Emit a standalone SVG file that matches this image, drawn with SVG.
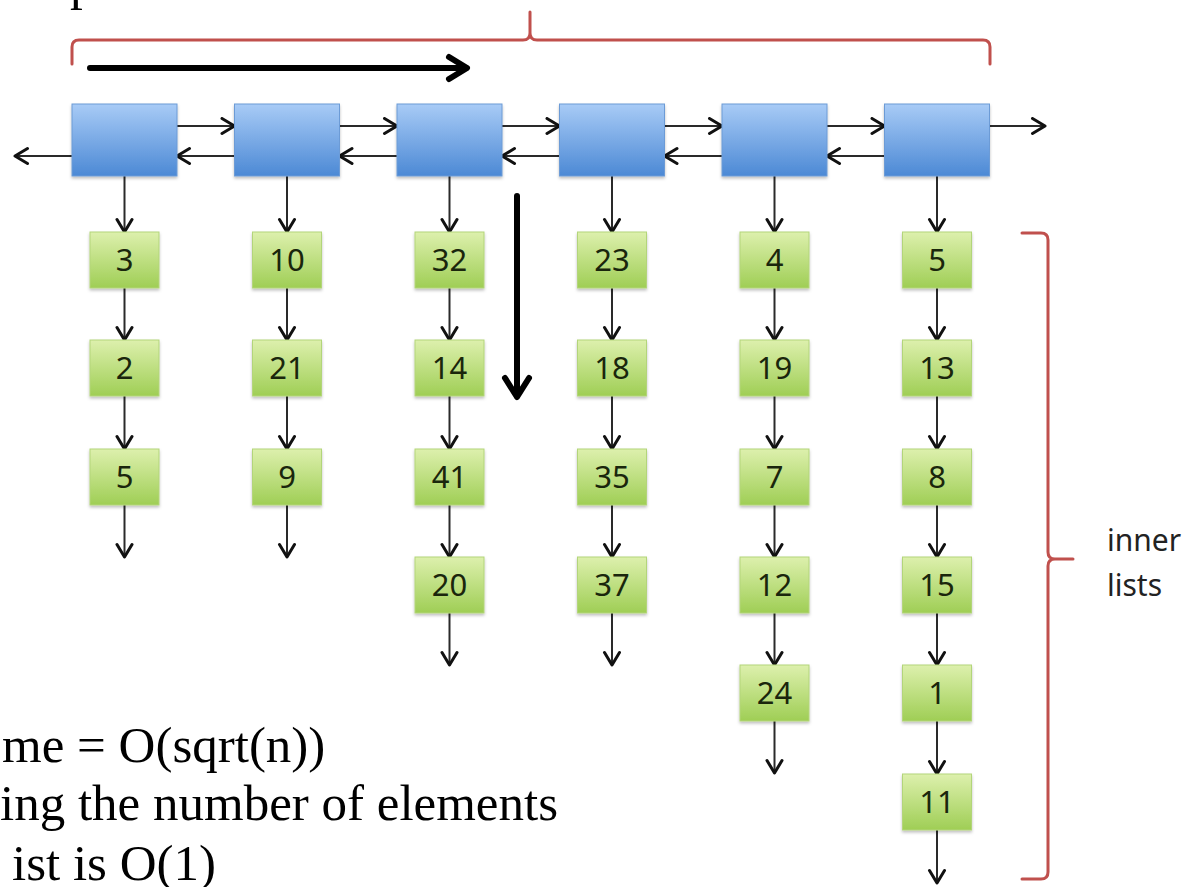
<svg xmlns="http://www.w3.org/2000/svg" width="1190" height="887" viewBox="0 0 1190 887">
  <style>
    .outer { fill: url(#blueFill); stroke: #6c9bd6; stroke-width: 1; filter: url(#shade); }
    .inner { fill: url(#greenFill); stroke: #b3d57a; stroke-width: 1; filter: url(#shade); }
    .num { font-family: "Noto Sans", "Open Sans", sans-serif; font-size: 31px; fill: #1a260c; text-anchor: middle; }
    .link { stroke: #2a2a2a; stroke-width: 2; fill: none; marker-end: url(#head); }
    .brace { stroke: #c0504d; stroke-width: 3; fill: none; stroke-linecap: round; stroke-linejoin: round; }
    .bold { stroke: #000; stroke-width: 6; fill: none; stroke-linecap: round; stroke-linejoin: round; }
    .note { font-family: "Liberation Serif", "Times New Roman", serif; font-size: 51px; fill: #000; }
    .label { font-family: "Noto Sans", "Open Sans", sans-serif; font-size: 30px; fill: #222; }
  </style>
  <defs>
    <linearGradient id="blueFill" x1="0" y1="0" x2="0" y2="1">
      <stop offset="0" stop-color="#a8cbf6"/>
      <stop offset="1" stop-color="#4c89d5"/>
    </linearGradient>
    <linearGradient id="greenFill" x1="0" y1="0" x2="0" y2="1">
      <stop offset="0" stop-color="#ddf0ad"/>
      <stop offset="1" stop-color="#9fce55"/>
    </linearGradient>
    <filter id="shade" x="-10%" y="-10%" width="120%" height="130%">
      <feDropShadow dx="0" dy="2" stdDeviation="1.5" flood-color="#000" flood-opacity="0.25"/>
    </filter>
    <marker id="head" markerUnits="userSpaceOnUse" markerWidth="20" markerHeight="20" refX="15" refY="9" orient="auto">
      <path d="M2.5,1.5 L15,9 L2.5,16.5" fill="none" stroke="#111" stroke-width="3" stroke-linecap="round" stroke-linejoin="round"/>
    </marker>
  </defs>

  <rect width="1190" height="887" fill="#fff"/>

  <!-- descender of the heading line above -->
  <text class="note" x="70" y="-1">p</text>

  <!-- braces -->
  <path class="brace" d="M72,64 V47 Q72,40 79,40 H523 Q530,40 530,33 V12 V33 Q530,40 537,40 H983 Q990,40 990,47 V64"/>
  <path class="brace" d="M1022,233 H1041 Q1048,233 1048,240 V552 Q1048,559 1055,559 H1073 H1055 Q1048,559 1048,566 V872 Q1048,879 1041,879 H1022"/>

  <!-- traversal arrows -->
  <g id="traverse-right">
    <path class="bold" d="M90,68 H466"/>
    <path class="bold" d="M449,57 L467,68 L449,79"/>
  </g>
  <g id="traverse-down">
    <path class="bold" d="M517,196 V396"/>
    <path class="bold" d="M505,378 L517,397 L529,378"/>
  </g>

  <!-- connectors -->
  <g id="connectors">
    <!-- forward links -->
    <line class="link" x1="177" y1="126" x2="234.5" y2="126"/>
    <line class="link" x1="339.5" y1="126" x2="397" y2="126"/>
    <line class="link" x1="502" y1="126" x2="559.5" y2="126"/>
    <line class="link" x1="664.5" y1="126" x2="722" y2="126"/>
    <line class="link" x1="827" y1="126" x2="884.5" y2="126"/>
    <line class="link" x1="989.5" y1="126" x2="1045" y2="126"/>
    <!-- backward links -->
    <line class="link" x1="72" y1="156" x2="15" y2="156"/>
    <line class="link" x1="234.5" y1="156" x2="177" y2="156"/>
    <line class="link" x1="397" y1="156" x2="339.5" y2="156"/>
    <line class="link" x1="559.5" y1="156" x2="502" y2="156"/>
    <line class="link" x1="722" y1="156" x2="664.5" y2="156"/>
    <line class="link" x1="884.5" y1="156" x2="827" y2="156"/>
    <!-- column 1 -->
    <line class="link" x1="124.5" y1="176" x2="124.5" y2="232"/>
    <line class="link" x1="124.5" y1="288" x2="124.5" y2="340"/>
    <line class="link" x1="124.5" y1="396" x2="124.5" y2="449"/>
    <line class="link" x1="124.5" y1="505" x2="124.5" y2="557"/>
    <!-- column 2 -->
    <line class="link" x1="287" y1="176" x2="287" y2="232"/>
    <line class="link" x1="287" y1="288" x2="287" y2="340"/>
    <line class="link" x1="287" y1="396" x2="287" y2="449"/>
    <line class="link" x1="287" y1="505" x2="287" y2="557"/>
    <!-- column 3 -->
    <line class="link" x1="449.5" y1="176" x2="449.5" y2="232"/>
    <line class="link" x1="449.5" y1="288" x2="449.5" y2="340"/>
    <line class="link" x1="449.5" y1="396" x2="449.5" y2="449"/>
    <line class="link" x1="449.5" y1="505" x2="449.5" y2="557"/>
    <line class="link" x1="449.5" y1="613" x2="449.5" y2="665"/>
    <!-- column 4 -->
    <line class="link" x1="612" y1="176" x2="612" y2="232"/>
    <line class="link" x1="612" y1="288" x2="612" y2="340"/>
    <line class="link" x1="612" y1="396" x2="612" y2="449"/>
    <line class="link" x1="612" y1="505" x2="612" y2="557"/>
    <line class="link" x1="612" y1="613" x2="612" y2="665"/>
    <!-- column 5 -->
    <line class="link" x1="774.5" y1="176" x2="774.5" y2="232"/>
    <line class="link" x1="774.5" y1="288" x2="774.5" y2="340"/>
    <line class="link" x1="774.5" y1="396" x2="774.5" y2="449"/>
    <line class="link" x1="774.5" y1="505" x2="774.5" y2="557"/>
    <line class="link" x1="774.5" y1="613" x2="774.5" y2="665"/>
    <line class="link" x1="774.5" y1="721" x2="774.5" y2="773"/>
    <!-- column 6 -->
    <line class="link" x1="937" y1="176" x2="937" y2="232"/>
    <line class="link" x1="937" y1="288" x2="937" y2="340"/>
    <line class="link" x1="937" y1="396" x2="937" y2="449"/>
    <line class="link" x1="937" y1="505" x2="937" y2="557"/>
    <line class="link" x1="937" y1="613" x2="937" y2="665"/>
    <line class="link" x1="937" y1="721" x2="937" y2="774"/>
    <line class="link" x1="937" y1="830" x2="937" y2="883"/>
  </g>

  <!-- outer list -->
  <g id="outer-1"><rect class="outer" x="72" y="104" width="105" height="72"/></g>
  <g id="outer-2"><rect class="outer" x="234.5" y="104" width="105" height="72"/></g>
  <g id="outer-3"><rect class="outer" x="397" y="104" width="105" height="72"/></g>
  <g id="outer-4"><rect class="outer" x="559.5" y="104" width="105" height="72"/></g>
  <g id="outer-5"><rect class="outer" x="722" y="104" width="105" height="72"/></g>
  <g id="outer-6"><rect class="outer" x="884.5" y="104" width="105" height="72"/></g>

  <!-- inner lists -->
  <g id="c1-0"><rect class="inner" x="90" y="232" width="69" height="56"/><text class="num" x="124.5" y="271">3</text></g>
  <g id="c1-1"><rect class="inner" x="90" y="340" width="69" height="56"/><text class="num" x="124.5" y="379">2</text></g>
  <g id="c1-2"><rect class="inner" x="90" y="449" width="69" height="56"/><text class="num" x="124.5" y="488">5</text></g>

  <g id="c2-0"><rect class="inner" x="252.5" y="232" width="69" height="56"/><text class="num" x="287" y="271">10</text></g>
  <g id="c2-1"><rect class="inner" x="252.5" y="340" width="69" height="56"/><text class="num" x="287" y="379">21</text></g>
  <g id="c2-2"><rect class="inner" x="252.5" y="449" width="69" height="56"/><text class="num" x="287" y="488">9</text></g>

  <g id="c3-0"><rect class="inner" x="415" y="232" width="69" height="56"/><text class="num" x="449.5" y="271">32</text></g>
  <g id="c3-1"><rect class="inner" x="415" y="340" width="69" height="56"/><text class="num" x="449.5" y="379">14</text></g>
  <g id="c3-2"><rect class="inner" x="415" y="449" width="69" height="56"/><text class="num" x="449.5" y="488">41</text></g>
  <g id="c3-3"><rect class="inner" x="415" y="557" width="69" height="56"/><text class="num" x="449.5" y="596">20</text></g>

  <g id="c4-0"><rect class="inner" x="577.5" y="232" width="69" height="56"/><text class="num" x="612" y="271">23</text></g>
  <g id="c4-1"><rect class="inner" x="577.5" y="340" width="69" height="56"/><text class="num" x="612" y="379">18</text></g>
  <g id="c4-2"><rect class="inner" x="577.5" y="449" width="69" height="56"/><text class="num" x="612" y="488">35</text></g>
  <g id="c4-3"><rect class="inner" x="577.5" y="557" width="69" height="56"/><text class="num" x="612" y="596">37</text></g>

  <g id="c5-0"><rect class="inner" x="740" y="232" width="69" height="56"/><text class="num" x="774.5" y="271">4</text></g>
  <g id="c5-1"><rect class="inner" x="740" y="340" width="69" height="56"/><text class="num" x="774.5" y="379">19</text></g>
  <g id="c5-2"><rect class="inner" x="740" y="449" width="69" height="56"/><text class="num" x="774.5" y="488">7</text></g>
  <g id="c5-3"><rect class="inner" x="740" y="557" width="69" height="56"/><text class="num" x="774.5" y="596">12</text></g>
  <g id="c5-4"><rect class="inner" x="740" y="665" width="69" height="56"/><text class="num" x="774.5" y="704">24</text></g>

  <g id="c6-0"><rect class="inner" x="902.5" y="232" width="69" height="56"/><text class="num" x="937" y="271">5</text></g>
  <g id="c6-1"><rect class="inner" x="902.5" y="340" width="69" height="56"/><text class="num" x="937" y="379">13</text></g>
  <g id="c6-2"><rect class="inner" x="902.5" y="449" width="69" height="56"/><text class="num" x="937" y="488">8</text></g>
  <g id="c6-3"><rect class="inner" x="902.5" y="557" width="69" height="56"/><text class="num" x="937" y="596">15</text></g>
  <g id="c6-4"><rect class="inner" x="902.5" y="665" width="69" height="56"/><text class="num" x="937" y="704">1</text></g>
  <g id="c6-5"><rect class="inner" x="902.5" y="774" width="69" height="56"/><text class="num" x="937" y="813">11</text></g>

  <!-- brace label -->
  <text class="label" x="1107" y="551">inner</text>
  <text class="label" x="1107" y="596">lists</text>

  <!-- complexity notes -->
  <text class="note" x="2" y="762">me = O(sqrt(n))</text>
  <text class="note" x="0" y="820">ing the number of elements</text>
  <text class="note" x="12" y="880" font-size="53">ist is O(1)</text>
</svg>
